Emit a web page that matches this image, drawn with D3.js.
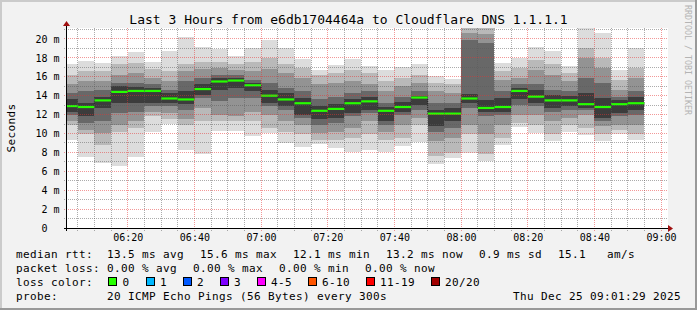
<!DOCTYPE html>
<html><head><meta charset="utf-8">
<script src="https://cdn.jsdelivr.net/npm/d3@7"></script>
<style>
body{margin:0;background:#f2f2f2}
svg{display:block}
text{font-family:"DejaVu Sans Mono",monospace;fill:#000}
</style>
</head><body><svg id="c" width="697" height="310"></svg>
<script>
// ---- data ----
const title = "Last 3 Hours from e6db1704464a to Cloudflare DNS 1.1.1.1";
const day = "2025-12-25";
const binStart = ["06:00","06:05","06:10","06:15","06:20","06:25","06:30","06:35","06:40","06:45","06:50","06:55",
  "07:00","07:05","07:10","07:15","07:20","07:25","07:30","07:35","07:40","07:45","07:50","07:55",
  "08:00","08:05","08:10","08:15","08:20","08:25","08:30","08:35","08:40","08:45","08:50"];
const median = [12.9,12.8,13.5,14.4,14.5,14.5,13.7,13.6,14.7,15.5,15.6,15.1,14.0,13.6,13.2,12.4,12.6,13.2,13.4,12.4,12.8,13.8,12.1,12.1,13.7,12.7,12.8,14.5,13.9,13.5,13.5,13.1,12.8,13.1,13.2];
// smoke bands (ms): outermost (min/max ping) to innermost
const band1Hi = [17.3,17.7,17.5,18.2,18.6,17.6,18.7,20.2,19.1,18.9,18.2,19.0,19.9,19.0,17.9,16.75,17.2,17.9,17.1,16.7,17.0,17.3,16.1,15.8,22,22,17.5,18.0,19.1,18.7,17.1,21.2,20.6,16.7,19.0];
const band1Lo = [9.3,7.5,6.9,6.6,7.5,10.2,11.0,8.3,7.8,10.3,10.3,9.7,10.0,9.0,8.6,8.9,8.5,8.0,8.3,8.0,8.7,9.1,6.8,7.4,7.9,7.05,8.8,10.65,10.05,9.2,10.15,9.8,9.2,9.95,9.3];
const band2Hi = [16.2,16.6,16.6,17.3,17.5,16.8,16.6,17.3,17.6,17.6,17.4,17.6,18.0,17.3,16.9,16.2,16.4,16.75,16.4,15.5,15.9,16.2,15.3,15.2,21.8,21.8,16.6,16.9,17.8,17.3,16.4,19.0,18.0,15.7,16.9];
const band2Lo = [10.9,9.9,8.8,10.2,10.6,11.8,11.5,10.9,11.3,11.3,11.3,11.3,10.6,10.2,9.9,9.3,9.3,9.5,9.9,9.3,9.5,10.9,7.6,7.9,9.9,7.8,9.5,11.1,10.9,9.9,10.9,10.6,9.9,10.4,9.9];
const band3Hi = [15.2,15.5,15.5,16.2,16.4,15.9,15.5,16.6,16.8,16.9,16.7,16.6,16.8,16.4,15.9,15.2,15.3,15.5,15.2,14.5,15.0,15.3,14.5,14.3,20.6,20.5,15.7,15.9,16.75,16.2,15.5,18.0,16.9,14.6,15.9];
const band3Lo = [11.3,10.4,10.0,10.9,11.3,12.3,12.2,11.5,12.7,12.0,11.8,12.3,12.0,11.3,10.9,10.0,10.2,10.6,11.3,10.2,10.9,11.6,9.2,9.5,10.9,9.9,10.9,12.0,12.0,11.3,11.6,12.0,10.75,10.9,10.9];
const band4Hi = [14.3,14.5,14.6,15.3,15.3,15.2,14.6,15.5,15.9,16.2,16.2,15.7,15.3,14.8,14.5,13.6,13.9,14.3,14.5,13.2,13.9,14.5,13.2,13.2,19.9,19.6,14.5,15.2,15.2,14.6,14.5,15.9,15.3,13.9,14.5];
const band4Lo = [12.0,11.1,11.3,12.2,12.3,12.9,12.9,12.5,13.8,13.4,13.8,13.8,12.9,12.5,11.6,10.9,11.1,11.8,12.2,10.9,12.0,12.5,10.2,10.6,12.7,11.8,12.0,13.05,12.9,12.3,12.5,12.5,11.3,11.8,12.0];
const band5Hi = [13.6,13.2,13.9,15.0,14.9,14.8,14.3,14.5,15.2,15.9,15.9,15.3,14.6,14.3,13.8,12.9,13.1,13.7,13.9,12.8,13.3,14.0,12.5,12.7,14.2,13.5,13.75,14.8,14.6,14.1,14.0,14.3,13.75,13.5,13.9];
const band5Lo = [12.3,11.9,12.7,13.2,13.2,13.2,13.2,13.1,14.1,14.6,14.8,14.5,13.2,12.9,12.0,11.5,11.6,12.2,12.5,11.3,12.3,13.05,10.75,11.3,13.2,12.3,12.3,13.6,13.2,12.7,12.9,12.7,11.6,12.2,12.5];
const yMax = 21.16;
const yTicks = [0,2,4,6,8,10,12,14,16,18,20];
const yTickLabels = ["0  ","2 m","4 m","6 m","8 m","10 m","12 m","14 m","16 m","18 m","20 m"];
const yMinorTicks = [1,3,5,7,9,11,13,15,17,19,21];
const xTickLabels = ["06:20","06:40","07:00","07:20","07:40","08:00","08:20","08:40","09:00"];
const timeStart = "06:01:29", timeEnd = "09:01:29";
const lossLabels = ["0","1","2","3","4-5","6-10","11-19","20/20"];
const lossColors = ["#26ff00","#00b8ff","#0059ff","#7e00ff","#ff00ff","#ff5500","#ff0000","#a10000"];
const legendMedian = ["median rtt:","13.5 ms avg","15.6 ms max","12.1 ms min","13.2 ms now","0.9 ms sd","15.1","am/s"];
const legendLoss = ["packet loss:","0.00 % avg","0.00 % max","0.00 % min","0.00 % now"];
const probeText = ["probe:","20 ICMP Echo Pings (56 Bytes) every 300s","Thu Dec 25 09:01:29 2025"];

// ---- layout ----
const W = 697, H = 310;
const L = 66, R = 666, T = 28, B = 228;
const bandHi = [band1Hi,band2Hi,band3Hi,band4Hi,band5Hi];
const bandLo = [band1Lo,band2Lo,band3Lo,band4Lo,band5Lo];
const bandColors = ["#dcdcdc","#b9b9b9","#939393","#686868","#3c3c3c"];

const svg = d3.select("#c");
const pT = s => d3.timeParse("%Y-%m-%d %H:%M:%S")(day + " " + s);
const pM = s => d3.timeParse("%Y-%m-%d %H:%M")(day + " " + s);
const t0 = pT(timeStart), t1 = pT(timeEnd);
const x = d3.scaleTime().domain([t0,t1]).range([L,R]);
const y = d3.scaleLinear().domain([0,yMax]).range([B,T]);

const defs = svg.append("defs");
// dotted grid patterns (1px on / 1px off)
[["minV",1,2,"rgba(90,90,90,0.5)"],["minH",2,1,"rgba(90,90,90,0.5)"],
 ["majV",1,2,"rgba(230,50,50,0.5)"],["majH",2,1,"rgba(230,50,50,0.5)"]].forEach(([id,w,h,c])=>{
  const p = defs.append("pattern").attr("id",id).attr("patternUnits","userSpaceOnUse")
    .attr("x",0).attr("y",0).attr("width",w).attr("height",h);
  p.append("rect").attr("x",0).attr("y",0).attr("width",1).attr("height",1).attr("fill",c);
});
defs.append("clipPath").attr("id","pc").append("rect")
  .attr("x",L+1).attr("y",T).attr("width",R-L).attr("height",B-T);

// canvas & border
svg.append("rect").attr("width",W).attr("height",H).attr("fill","#f2f2f2");
svg.append("rect").attr("x",0).attr("y",0).attr("width",W).attr("height",2).attr("fill","#cbcbcb");
svg.append("rect").attr("x",0).attr("y",0).attr("width",2).attr("height",H).attr("fill","#cbcbcb");
svg.append("rect").attr("x",0).attr("y",H-2).attr("width",W).attr("height",2).attr("fill","#999");
svg.append("rect").attr("x",W-2).attr("y",0).attr("width",2).attr("height",H).attr("fill","#999");
svg.append("rect").attr("x",L+1).attr("y",T).attr("width",R-L+1).attr("height",B-T).attr("fill","#fff");

const bins = binStart.map((s,i)=>{
  const a = pM(s), b = new Date(+a + 5*60*1000);
  return {a: a < t0 ? t0 : a, b, i};
});

const plot = svg.append("g").attr("clip-path","url(#pc)");
bandHi.forEach((hi,k)=>{
  plot.append("g").selectAll("rect").data(bins).join("rect")
    .attr("shape-rendering","crispEdges")
    .attr("x",d=>x(d.a)).attr("width",d=>x(d.b)-x(d.a))
    .attr("y",d=>y(hi[d.i])).attr("height",d=>y(bandLo[k][d.i])-y(hi[d.i]))
    .attr("fill",bandColors[k]);
});

// median step line
const stepPts = [];
bins.forEach(d=>{ stepPts.push([x(d.a),y(median[d.i])]); stepPts.push([x(d.b),y(median[d.i])]); });
plot.append("path").attr("d",d3.line()(stepPts)).attr("fill","none")
  .attr("stroke","#202020").attr("stroke-width",1).attr("stroke-dasharray","1,1");
plot.append("g").selectAll("line").data(bins).join("line")
  .attr("x1",d=>x(d.a)).attr("x2",d=>x(d.b))
  .attr("y1",d=>y(median[d.i])).attr("y2",d=>y(median[d.i]))
  .attr("stroke",lossColors[0]).attr("stroke-width",2.2);

// grid (drawn on top, dotted via patterns)
const grid = svg.append("g").attr("shape-rendering","crispEdges");
const gridX = x.ticks(d3.timeMinute.every(5)).filter(t => x(t) > L + 1);
grid.selectAll("rect.vx").data(gridX).join("rect").attr("class","vx")
  .attr("x",t=>Math.floor(x(t))).attr("width",1)
  .attr("y",T).attr("height",B+3-T)
  .attr("fill",t=> t.getMinutes() % 20 === 0 ? "url(#majV)" : "url(#minV)");
const gridY = yMinorTicks.concat(yTicks.filter(v=>v>0)).filter(v => y(v) >= T);
grid.selectAll("rect.hy").data(gridY).join("rect").attr("class","hy")
  .attr("x",L-2).attr("width",R+3-L)
  .attr("y",v=>Math.floor(y(v))).attr("height",1)
  .attr("fill",v=> v % 2 === 0 ? "url(#majH)" : "url(#minH)");

// axes lines & arrows
svg.append("line").attr("x1",L-2).attr("x2",R+3).attr("y1",B+0.5).attr("y2",B+0.5).attr("stroke","#000");
svg.append("line").attr("x1",L+0.5).attr("x2",L+0.5).attr("y1",B+3).attr("y2",T-3).attr("stroke","#000");
svg.append("path").attr("d",`M${R+2},${B-3}L${R+7},${B+0.5}L${R+2},${B+4}Z`).attr("fill","#a01010");
svg.append("path").attr("d",`M${L-3},${T-2}L${L+0.5},${T-7}L${L+4},${T-2}Z`).attr("fill","#a01010");

// axis labels
const ya = svg.append("g").attr("transform",`translate(${L},0)`)
  .call(d3.axisLeft(y).tickValues(yTicks).tickFormat((d,i)=>yTickLabels[i]).tickSize(0).tickPadding(6.5));
ya.select(".domain").remove();
ya.selectAll("text").attr("font-family","DejaVu Sans Mono").attr("font-size","10px").style("white-space","pre").attr("fill","#000");
const xa = svg.append("g").attr("transform",`translate(0,${B})`)
  .call(d3.axisBottom(x).tickValues(xTickLabels.map(s=>pM(s))).tickFormat((d,i)=>xTickLabels[i]).tickSize(0).tickPadding(6));
xa.select(".domain").remove();
xa.selectAll("text").attr("font-family","DejaVu Sans Mono").attr("font-size","10px").attr("fill","#000");

// title
svg.append("text").attr("x",W/2).attr("y",23.5).attr("text-anchor","middle")
  .attr("font-size","13px").text(title);
svg.append("text").attr("transform","translate(15,128) rotate(-90)").attr("text-anchor","middle")
  .attr("font-size","11px").attr("letter-spacing","0.38px").text("Seconds");
svg.append("text").attr("transform","translate(685,5) rotate(90)")
  .attr("font-size","8.3px").style("fill","#b4b4b4").text("RRDTOOL / TOBI OETIKER");

// legend
const lg = svg.append("g").attr("font-size","11px").attr("letter-spacing","0.38px").style("white-space","pre");
const mX = [16,107,200,293,386,479,558,607];
legendMedian.forEach((s,i)=>lg.append("text").attr("x",mX[i]).attr("y",258).text(s));
const pX = [16,107,193,279,365];
legendLoss.forEach((s,i)=>lg.append("text").attr("x",pX[i]).attr("y",272).text(s));
lg.append("text").attr("x",16).attr("y",286).text("loss color:");
const bX = [108,145.5,182.5,219.5,256.5,307.5,365.5,430.5];
lossLabels.forEach((s,i)=>{
  lg.append("rect").attr("x",bX[i]+0.5).attr("y",277.5).attr("width",8).attr("height",8)
    .attr("fill",lossColors[i]).attr("stroke","#000").attr("shape-rendering","crispEdges");
  lg.append("text").attr("x",bX[i]+14.5).attr("y",286).text(s);
});
lg.append("text").attr("x",16).attr("y",300).text(probeText[0]);
lg.append("text").attr("x",107).attr("y",300).text(probeText[1]);
lg.append("text").attr("x",681).attr("y",300).attr("text-anchor","end").text(probeText[2]);
</script>
</body></html>
